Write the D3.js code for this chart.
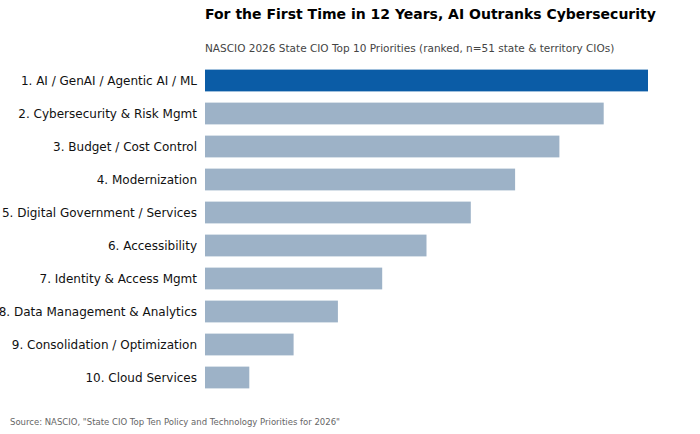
<!DOCTYPE html>
<html>
<head>
<meta charset="utf-8">
<script src="https://cdn.jsdelivr.net/npm/d3@7"></script>
<style>
  body { margin: 0; background: #fff; }
  text { font-family: "DejaVu Sans", sans-serif; }
</style>
</head>
<body>
<script>
// priorities, ranked (score = 11 - rank)
var categories = ["1. AI / GenAI / Agentic AI / ML", "2. Cybersecurity & Risk Mgmt", "3. Budget / Cost Control",
  "4. Modernization", "5. Digital Government / Services", "6. Accessibility", "7. Identity & Access Mgmt",
  "8. Data Management & Analytics", "9. Consolidation / Optimization", "10. Cloud Services"];
var scores = [10, 9, 8, 7, 6, 5, 4, 3, 2, 1];

var width = 700, height = 434;
var margin = {top: 64, left: 205, right: 52, bottom: 40};

var svg = d3.select("body").append("svg")
    .attr("width", width)
    .attr("height", height);

var x = d3.scaleLinear()
    .domain([0, 10])
    .range([margin.left, width - margin.right]);

var y = d3.scaleBand()
    .domain(categories)
    .range([margin.top, margin.top + 33 * 10])
    .paddingInner(0.34)
    .paddingOuter(0.17);

svg.selectAll(".bar")
    .data(categories)
    .enter().append("rect")
    .attr("class", "bar")
    .attr("x", x(0))
    .attr("y", function(d) { return y(d); })
    .attr("width", function(d, i) { return x(scores[i]) - x(0); })
    .attr("height", y.bandwidth())
    .style("fill", function(d, i) { return i == 0 ? "#0b5ca6" : "#9db2c7"; });

svg.selectAll(".label")
    .data(categories)
    .enter().append("text")
    .attr("x", x(0) - 8)
    .attr("y", function(d) { return y(d) + y.bandwidth() / 2; })
    .attr("dy", ".35em")
    .attr("text-anchor", "end")
    .style("font-size", "12px")
    .style("fill", "#111")
    .text(function(d) { return d; });

svg.append("text")
    .attr("x", 205).attr("y", 19)
    .style("font-size", "14px").style("font-weight", "bold")
    .text("For the First Time in 12 Years, AI Outranks Cybersecurity");

svg.append("text")
    .attr("x", 205).attr("y", 52)
    .style("font-size", "10.5px").style("fill", "#444")
    .text("NASCIO 2026 State CIO Top 10 Priorities (ranked, n=51 state & territory CIOs)");

svg.append("text")
    .attr("x", 10).attr("y", 425)
    .style("font-size", "8.5px").style("fill", "#666")
    .text("Source: NASCIO, \"State CIO Top Ten Policy and Technology Priorities for 2026\"");
</script>
</body>
</html>
